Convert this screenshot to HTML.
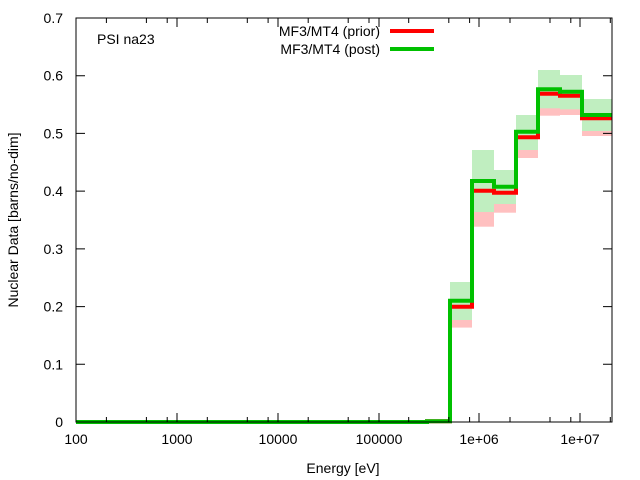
<!DOCTYPE html>
<html><head><meta charset="utf-8"><style>
body{margin:0;background:#fff}
svg{display:block;font-family:"Liberation Sans",Arial,sans-serif;font-size:14px}
</style></head><body>
<svg width="640" height="480" xmlns="http://www.w3.org/2000/svg">
<rect width="640" height="480" fill="#fff"/>
<g>
<rect x="450" y="282" width="22" height="45.6" fill="#ffc0c0"/>
<rect x="472" y="150" width="22" height="76.7" fill="#ffc0c0"/>
<rect x="494" y="170" width="22" height="42.7" fill="#ffc0c0"/>
<rect x="516" y="115" width="22" height="43" fill="#ffc0c0"/>
<rect x="538" y="70" width="22" height="45.7" fill="#ffc0c0"/>
<rect x="560" y="75" width="22" height="40" fill="#ffc0c0"/>
<rect x="582" y="99" width="30" height="37" fill="#ffc0c0"/>
<rect x="450" y="282" width="22" height="38" fill="#c0eec0"/>
<rect x="472" y="150" width="22" height="62" fill="#c0eec0"/>
<rect x="494" y="170" width="22" height="34" fill="#c0eec0"/>
<rect x="516" y="115" width="22" height="35" fill="#c0eec0"/>
<rect x="538" y="70" width="22" height="38.3" fill="#c0eec0"/>
<rect x="560" y="75" width="22" height="34.3" fill="#c0eec0"/>
<rect x="582" y="99" width="30" height="32" fill="#c0eec0"/>
</g>
<path d="M76 422 H427 V421.2 H450 V306.7 H472 V190.7 H494 V192.7 H516 V137.3 H538 V93.7 H560 V95.7 H582 V118.3 H612" fill="none" stroke="#ff0000" stroke-width="4"/>
<path d="M76 422 H427 V421.2 H450 V300.7 H472 V181 H494 V186.7 H516 V131.7 H538 V89.3 H560 V91.7 H582 V115 H612" fill="none" stroke="#00c000" stroke-width="4"/>
<rect x="76" y="18" width="536" height="404" fill="none" stroke="#000" stroke-width="1"/>
<g stroke="#000" stroke-width="1">
<path d="M76 364.3h9M76 306.6h9M76 248.9h9M76 191.1h9M76 133.4h9M76 75.7h9M603 364.3h9M603 306.6h9M603 248.9h9M603 191.1h9M603 133.4h9M603 75.7h9"/>
<path d="M177 422v-9M278 422v-9M379 422v-9M479 422v-9M580 422v-9M177 18v9M278 18v9M379 18v9M479 18v9M580 18v9"/>
<path d="M106.4 422v-5M146.4 422v-5M167.2 422v-5M207.3 422v-5M247.3 422v-5M268.1 422v-5M308.2 422v-5M348.2 422v-5M369 422v-5M408.7 422v-5M448.8 422v-5M469.6 422v-5M510 422v-5M550 422v-5M570.8 422v-5M610.3 422v-5"/>
<path d="M106.4 18v5M146.4 18v5M167.2 18v5M207.3 18v5M247.3 18v5M268.1 18v5M308.2 18v5M348.2 18v5M369 18v5M408.7 18v5M448.8 18v5M469.6 18v5M510 18v5M550 18v5M570.8 18v5M610.3 18v5"/>
</g>
<g text-anchor="end">
<text x="63" y="427">0</text><text x="63" y="369.3">0.1</text><text x="63" y="311.6">0.2</text><text x="63" y="253.9">0.3</text><text x="63" y="196.1">0.4</text><text x="63" y="138.4">0.5</text><text x="63" y="80.7">0.6</text><text x="63" y="23">0.7</text>
</g>
<g text-anchor="middle">
<text x="76" y="444">100</text><text x="177" y="444">1000</text><text x="278" y="444">10000</text><text x="379" y="444">100000</text><text x="479" y="444">1e+06</text><text x="580" y="444">1e+07</text>
<text x="343" y="473">Energy [eV]</text>
<text transform="translate(18,220) rotate(-90)">Nuclear Data [barns/no-dim]</text>
</g>
<text x="97" y="44">PSI na23</text>
<g text-anchor="end"><text x="380" y="36">MF3/MT4 (prior)</text><text x="380" y="54">MF3/MT4 (post)</text></g>
<path d="M390 31h44" stroke="#ff0000" stroke-width="4"/>
<path d="M390 49h44" stroke="#00c000" stroke-width="4"/>
</svg>
</body></html>
